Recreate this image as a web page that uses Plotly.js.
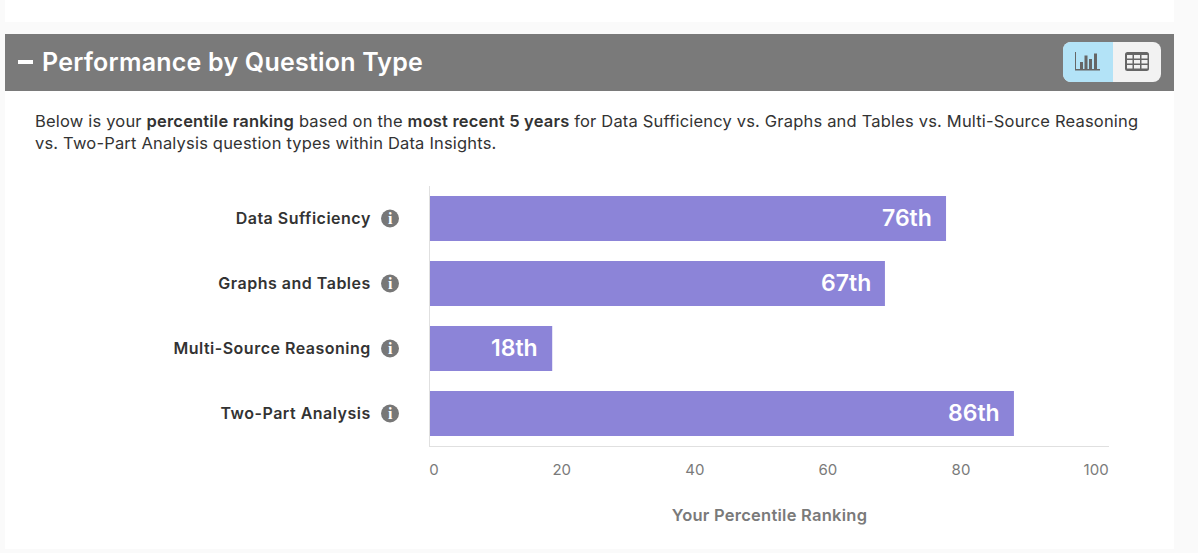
<!DOCTYPE html>
<html><head><meta charset="utf-8">
<script src="https://cdn.plot.ly/plotly-3.0.1.min.js"></script>
<style>
html,body{margin:0;padding:0;width:1198px;height:553px;overflow:hidden;background:#fafafa;font-family:Inter,sans-serif}
.abs{position:absolute}
#top{left:5px;top:0;width:1169px;height:22px;background:#fff}
#card{left:5px;top:91px;width:1169px;height:458px;background:#fff}
#head{left:5px;top:34px;width:1169px;height:57px;background:#7a7a7a}
#minus{left:18px;top:60px;width:15px;height:4px;background:#fff}
#title{left:42px;top:47px;color:#fff;font-size:25px;font-weight:600;line-height:30px;white-space:nowrap;letter-spacing:.22px}
.desc{left:35px;color:#333;font-size:16.5px;line-height:22px;white-space:nowrap;letter-spacing:.185px}
.desc b{font-weight:600}
#tog{left:1063px;top:42px;width:98px;height:40px;border-radius:8px;overflow:hidden;background:#f2f2f2}
#tog .on{position:absolute;left:0;top:0;width:50px;height:40px;background:#b3e3f7}
#chart{left:5px;top:170px;width:1169px;height:370px}
#chart .ytick text{letter-spacing:.5px}
#chart .xtitle{letter-spacing:.25px}
</style></head><body>
<div class="abs" id="top"></div>
<div class="abs" id="card"></div>
<div class="abs" id="head"></div>
<div class="abs" id="minus"></div>
<div class="abs" id="title">Performance by Question Type</div>
<div class="abs" id="tog"><div class="on"></div>
<svg width="98" height="40" style="position:absolute;left:0;top:0">
<g fill="#666"><rect x="12" y="10" width="1" height="18"/><rect x="12" y="27" width="25" height="1.5"/>
<rect x="17" y="20" width="3" height="7"/><rect x="21.500" y="13.500" width="3" height="13.500"/><rect x="26" y="17" width="3" height="10"/><rect x="31" y="11.500" width="3" height="15.500"/></g>
<rect x="62" y="10" width="24" height="19" rx="2.500" fill="#666"/>
<g fill="#f2f2f2"><rect x="64" y="13" width="5.500" height="3.500"/><rect x="71" y="13" width="6" height="3.500"/><rect x="78.500" y="13" width="6" height="3.500"/>
<rect x="64" y="18" width="5.500" height="3.500"/><rect x="71" y="18" width="6" height="3.500"/><rect x="78.500" y="18" width="6" height="3.500"/>
<rect x="64" y="23" width="5.500" height="3.500"/><rect x="71" y="23" width="6" height="3.500"/><rect x="78.500" y="23" width="6" height="3.500"/></g>
</svg></div>
<div class="abs desc" style="top:110px">Below is your <b>percentile ranking</b> based on the <b>most recent 5 years</b> for Data Sufficiency vs. Graphs and Tables vs. Multi-Source Reasoning</div>
<div class="abs desc" style="top:132px">vs. Two-Part Analysis question types within Data Insights.</div>
<div class="abs" id="chart"></div>
<script>
const categories = ["Data Sufficiency","Graphs and Tables","Multi-Source Reasoning","Two-Part Analysis"];
const percentiles = [76,67,18,86];
const barLabels = ["76th","67th","18th","86th"];
const tickLabels = ["0","20","40","60","80","100"];
const tickPositions = [0.6,19.4,39,58.6,78.2,98.1];
const barColor = "#8c84d8";
const font = "Inter, sans-serif";

const annotations = barLabels.map((t,i)=>({x:percentiles[i],y:categories[i],xref:"x",yref:"y",text:t,showarrow:false,
  xanchor:"right",xshift:-12,yshift:1,font:{family:font,size:23,color:"#fff",weight:600}}));
categories.forEach(c=>annotations.push({x:0,y:c,xref:"paper",yref:"y",text:"<b>i</b>",showarrow:false,xanchor:"center",
  xshift:-40,font:{family:"Liberation Serif, serif",size:16,color:"#fff"}}));
const shapes = categories.map(c=>({type:"circle",xref:"paper",yref:"y",xsizemode:"pixel",ysizemode:"pixel",xanchor:0,yanchor:c,
  x0:-49,x1:-31,y0:-9,y1:9,fillcolor:"#777",line:{width:0}}));

Plotly.newPlot("chart",[{type:"bar",orientation:"h",x:percentiles,y:categories,marker:{color:barColor,line:{width:0}},hoverinfo:"x+y"}],{
  width:1169,height:370,paper_bgcolor:"rgba(0,0,0,0)",plot_bgcolor:"rgba(0,0,0,0)",showlegend:false,
  margin:{l:425,r:65,t:16,b:94},bargap:0.31,
  xaxis:{range:[0,100],tickmode:"array",tickvals:tickPositions,ticktext:tickLabels,showgrid:false,zeroline:false,ticks:"",
    showline:true,linecolor:"#e0e0e0",linewidth:1,tickfont:{family:font,size:15,color:"#7a7a7a"},ticklabelstandoff:10,
    title:{text:"Your Percentile Ranking",font:{family:font,size:16.500,color:"#7a7a7a",weight:600},standoff:31}},
  yaxis:{type:"category",categoryorder:"array",categoryarray:categories,autorange:"reversed",showgrid:false,zeroline:false,ticks:"",
    showline:true,linecolor:"#e0e0e0",linewidth:1,ticklabelstandoff:55,
    tickfont:{family:font,size:16,color:"#333",weight:600}},
  annotations,shapes
},{displayModeBar:false});
</script>
</body></html>
